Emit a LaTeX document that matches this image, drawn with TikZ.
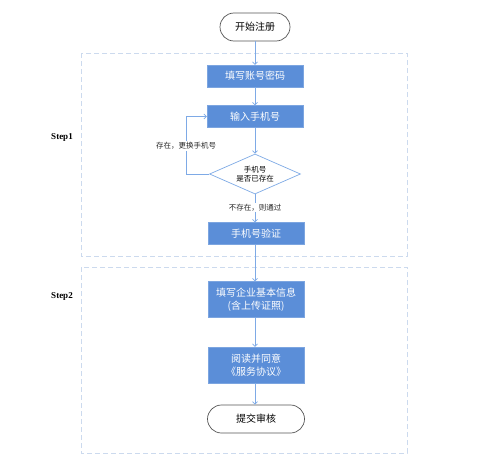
\documentclass[tikz,border=0pt]{standalone}
\usepackage{fontspec}
\newfontfamily\cjk{Noto Sans CJK SC}
\setmainfont{Liberation Serif}
\usetikzlibrary{arrows.meta,shapes.geometric}
\definecolor{boxblue}{HTML}{5B8ED8}
\definecolor{lineblue}{HTML}{7EAAE6}
\definecolor{dashblue}{HTML}{CCDAEE}
\definecolor{termgray}{HTML}{555555}
\begin{document}
\begin{tikzpicture}[x=1pt,y=-1pt,
  procbox/.style={fill=boxblue,draw=boxblue!80!white,minimum width=96pt,minimum height=22pt,inner sep=1pt,
    text=white,font=\cjk\fontsize{10}{12.5}\selectfont,align=center},
  tallbox/.style={procbox,minimum height=36pt},
  termbox/.style={draw=termgray,line width=0.7pt,rounded corners=14pt,minimum width=97pt,minimum height=28pt,
    font=\cjk\fontsize{10}{12}\selectfont},
  decbox/.style={diamond,draw=lineblue,line width=0.7pt,aspect=2.25,minimum width=91pt,minimum height=40pt,inner sep=0pt,
    font=\cjk\fontsize{7.5}{9}\selectfont,align=center},
  flow/.style={draw=lineblue,line width=0.7pt,-{Straight Barb[length=2.5pt,width=5pt]}},
  lbl/.style={font=\cjk\fontsize{7.5}{9}\selectfont,text=black!85,fill=white,inner sep=1pt},
  stepbox/.style={draw=dashblue,dash pattern=on 5pt off 3pt,line width=0.6pt},
  steplbl/.style={font=\bfseries\fontsize{9}{11}\selectfont}]
\useasboundingbox (0,0) rectangle (487,463);
\fill[white] (0,0) rectangle (487,463);
% step regions
\draw[stepbox] (81,53) rectangle (407,256);
\draw[stepbox] (81,267) rectangle (407,453);
\node[steplbl] (s1) at (62,137) {Step1};
\node[steplbl] (s2) at (62,296) {Step2};
% nodes
\node[termbox,minimum width=70pt] (start) at (255,27) {开始注册};
\node[procbox] (b1) at (255,76) {填写账号密码};
\node[procbox] (b2) at (255,116.5) {输入手机号};
\node[decbox] (d) at (255,174) {手机号\\是否已存在};
\node[procbox] (b3) at (256,233.5) {手机号验证};
\node[tallbox] (b4) at (256,299.5) {填写企业基本信息\\(含上传证照)};
\node[tallbox] (b5) at (256,365) {阅读并同意\\《服务协议》};
\node[termbox] (end) at (256,419) {提交审核};
\coordinate (lp) at (186,174);
% connectors
\draw[flow] (start) -- (b1.north -| start);
\draw[flow] (b1) -- (b2);
\draw[flow] (b2.south -| d.north) -- (d.north);
\draw[flow] (d.west) -- (lp) |- (b2.west);
\node[lbl] (l1) at (186,146) {存在，更换手机号};
\draw[flow] (d.south) -- (d.south |- b3.north) node[lbl,pos=0.47] (l2) {不存在，则通过};
\draw[flow] (b3.south -| d.south) -- (b4.north -| d.south);
\draw[flow] (b4.south -| d.south) -- (b5.north -| d.south);
\draw[flow] (b5.south -| d.south) -- (end.north -| d.south);
\end{tikzpicture}
\end{document}
